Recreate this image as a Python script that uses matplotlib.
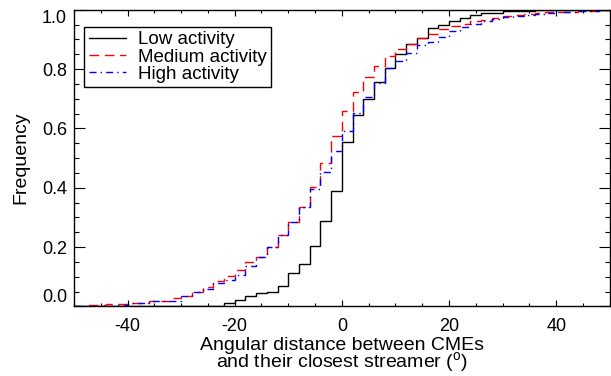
import matplotlib
matplotlib.use('Agg')
import matplotlib.pyplot as plt
import numpy as np

plt.rcParams['font.family'] = ['Liberation Sans', 'DejaVu Sans']
plt.rcParams['mathtext.fontset'] = 'custom'
plt.rcParams['mathtext.rm'] = 'Liberation Sans'
plt.rcParams['axes.unicode_minus'] = False

# bin edges of the angular distance (deg)
edges = np.arange(-50, 52, 2)

# cumulative frequency in each 2-degree bin
low = [0, 0, 0, 0, 0, 0, 0, 0, 0, 0,
       0, 0, 0, 0, 0.013, 0.022, 0.036, 0.045, 0.048, 0.068,
       0.112, 0.143, 0.203, 0.288, 0.390, 0.554, 0.646, 0.700, 0.758, 0.804,
       0.851, 0.885, 0.906, 0.938, 0.947, 0.963, 0.972, 0.981, 0.989, 0.989,
       0.997, 0.997, 0.997, 1.0, 1.0, 1.0, 1.0, 1.0, 1.0, 1.0]
medium = [0.002, 0.004, 0.006, 0.007, 0.008, 0.011, 0.013, 0.017, 0.019, 0.028,
          0.034, 0.047, 0.064, 0.087, 0.104, 0.123, 0.149, 0.168, 0.202, 0.242,
          0.284, 0.335, 0.403, 0.482, 0.575, 0.659, 0.724, 0.775, 0.811, 0.843,
          0.867, 0.886, 0.905, 0.919, 0.935, 0.944, 0.952, 0.961, 0.966, 0.972,
          0.978, 0.981, 0.985, 0.989, 0.991, 0.993, 0.993, 0.996, 0.996, 0.999]
high = [0.001, 0.001, 0.002, 0.003, 0.004, 0.011, 0.013, 0.017, 0.019, 0.020,
        0.034, 0.047, 0.060, 0.079, 0.090, 0.107, 0.135, 0.165, 0.202, 0.241,
        0.284, 0.334, 0.395, 0.452, 0.525, 0.590, 0.652, 0.706, 0.753, 0.803,
        0.826, 0.854, 0.882, 0.893, 0.908, 0.929, 0.941, 0.952, 0.961, 0.970,
        0.976, 0.980, 0.983, 0.985, 0.989, 0.991, 0.993, 0.995, 0.997, 0.999]

fig = plt.figure(figsize=(6.11, 3.76), dpi=100)
ax = fig.add_axes([0.121, 0.185, 0.877, 0.789])

ax.stairs(low, edges, baseline=None, color='black', lw=1.0, label='Low activity')
ax.stairs(medium, edges, baseline=None, color='red', lw=1.0, ls=(0, (7, 4)),
          label='Medium activity')
ax.stairs(high, edges, baseline=None, color='blue', lw=1.0, ls=(0, (5, 3, 1, 3)),
          label='High activity')

ax.set_xlim(-50, 50)
ax.set_ylim(0, 1)
ax.set_xticks([-40, -20, 0, 20, 40])
ax.set_xticks(np.arange(-50, 51, 5), minor=True)
ax.set_yticks([0.0, 0.2, 0.4, 0.6, 0.8, 1.0])
ax.set_yticklabels(['0.0', '0.2', '0.4', '0.6', '0.8', '1.0'])
ax.set_yticks(np.arange(0, 1.01, 0.05), minor=True)

ax.tick_params(axis='both', which='both', direction='in', top=True, right=True,
               labelsize=13, width=0.8)
ax.tick_params(axis='x', which='major', length=4.5, pad=8)
ax.tick_params(axis='x', which='minor', length=2.2)
ax.tick_params(axis='y', which='major', length=8, pad=5)
ax.tick_params(axis='y', which='minor', length=3.6)
ylabs = ax.get_yticklabels()
ylabs[0].set_va('bottom')
ylabs[-1].set_va('top')
for s in ax.spines.values():
    s.set_linewidth(1.0)

ax.set_xlabel('Angular distance between CMEs\nand their closest streamer ($^{\\rm o}$)',
              fontsize=14, labelpad=2, linespacing=0.75)
ax.set_ylabel('Frequency', fontsize=14, labelpad=9)

leg = ax.legend(loc='upper left', bbox_to_anchor=(0.019, 0.943), borderaxespad=0,
                fontsize=13.5, frameon=True, fancybox=False, edgecolor='black',
                framealpha=1, handlelength=2.0, labelspacing=0.0, borderpad=0.25,
                handletextpad=0.6)
leg.get_frame().set_linewidth(1.0)

fig.savefig('out.png', dpi=100)
